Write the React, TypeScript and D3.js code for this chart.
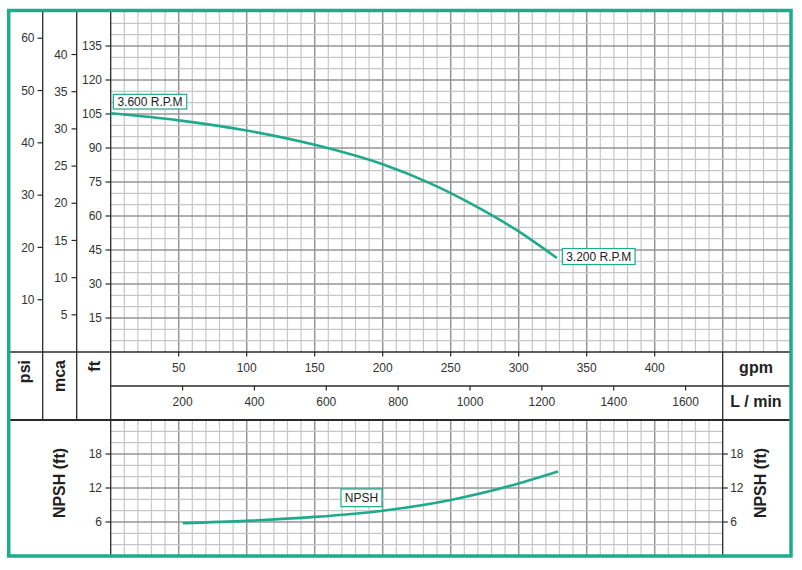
import React from "react";
import * as d3 from "d3";

// ---- data ----
const headGpm = [0, 50, 100, 150, 200, 235, 270, 300, 328];
const headFt = [105.3, 102.2, 97.7, 91.4, 82.8, 74.4, 63.8, 53.2, 41.5];
const npshGpm = [53, 100, 150, 200, 250, 300, 329];
const npshFt = [5.8, 6.2, 6.9, 8.0, 9.9, 12.8, 14.9];

const psiTicks = [10, 20, 30, 40, 50, 60];
const mcaTicks = [5, 10, 15, 20, 25, 30, 35, 40];
const ftTicks = [15, 30, 45, 60, 75, 90, 105, 120, 135];
const gpmTicks = [50, 100, 150, 200, 250, 300, 350, 400];
const lminTicks = [200, 400, 600, 800, 1000, 1200, 1400, 1600];
const npshTicks = [6, 12, 18];

const label3600 = "3.600 R.P.M";
const label3200 = "3.200 R.P.M";
const labelNpsh = "NPSH";

const GREEN = "#1faa8c";
const LIGHT = "#c6c6c6";
const DARK = "#949494";
const AX = "#2a2a2a";
const TXT = "#333";
const FONT = "'Liberation Sans', Arial, sans-serif";

export default function App() {
  const x0 = 110.7;
  const xGpm = d3.scaleLinear().domain([0, 500]).range([x0, x0 + 680]);
  const xL = d3.scaleLinear().domain([0, 500 * 3.785]).range([x0, x0 + 680]);
  const yFt = d3.scaleLinear().domain([0, 150]).range([352, 12]);
  const yPsi = d3.scaleLinear().domain([0, 150 / 2.307]).range([352, 12]);
  const yMca = d3.scaleLinear().domain([0, 150 / 3.281]).range([352, 12]);
  const yN = d3.scaleLinear().domain([0, 24]).range([556, 420]);

  const xRightN = xGpm(450);

  const vTop = d3.range(10, 500, 10);
  const vBot = d3.range(10, 450, 10);
  const hTop = d3.range(5, 150, 5);
  const hBot = d3.range(2, 24, 2);

  const headPts = headGpm.map((g, i) => [g, headFt[i]] as [number, number]);
  const npshPts = npshGpm.map((g, i) => [g, npshFt[i]] as [number, number]);
  const headLine = d3
    .line<[number, number]>()
    .x((d) => xGpm(d[0]))
    .y((d) => yFt(d[1]))
    .curve(d3.curveMonotoneX);
  const npshLine = d3
    .line<[number, number]>()
    .x((d) => xGpm(d[0]))
    .y((d) => yN(d[1]))
    .curve(d3.curveMonotoneX);

  const hs = headPts[0];
  const he = headPts[headPts.length - 1];
  const hsx = xGpm(hs[0]);
  const hsy = yFt(hs[1]);
  const hex = xGpm(he[0]);
  const hey = yFt(he[1]);
  const nMid = npshPts[3];

  const tickText = { fontSize: 12, fill: TXT, fontFamily: FONT } as const;
  const bold = { fontSize: 16, fontWeight: 700, fill: "#222", fontFamily: FONT } as const;

  return (
    <svg
      width={802}
      height={570}
      style={{ position: "absolute", left: 0, top: 0, background: "#fff" }}
    >
      <rect x={0} y={0} width={802} height={570} fill="#fff" />
      {/* grid top */}
      <g>
        {vTop.map((g) => (
          <line
            key={"vt" + g}
            x1={xGpm(g)}
            x2={xGpm(g)}
            y1={12}
            y2={352}
            stroke={g % 50 === 0 ? DARK : LIGHT}
            strokeWidth={g % 50 === 0 ? 1.5 : 1.2}
          />
        ))}
        {hTop.map((f) => (
          <line
            key={"ht" + f}
            x1={x0}
            x2={xGpm(500)}
            y1={yFt(f)}
            y2={yFt(f)}
            stroke={f % 15 === 0 ? DARK : LIGHT}
            strokeWidth={f % 15 === 0 ? 1.5 : 1.2}
          />
        ))}
      </g>
      {/* grid bottom */}
      <g>
        {vBot.map((g) => (
          <line
            key={"vb" + g}
            x1={xGpm(g)}
            x2={xGpm(g)}
            y1={420}
            y2={556}
            stroke={g % 50 === 0 ? DARK : LIGHT}
            strokeWidth={g % 50 === 0 ? 1.5 : 1.2}
          />
        ))}
        {hBot.map((f) => (
          <line
            key={"hb" + f}
            x1={x0}
            x2={xRightN}
            y1={yN(f)}
            y2={yN(f)}
            stroke={f % 6 === 0 ? DARK : LIGHT}
            strokeWidth={f % 6 === 0 ? 1.5 : 1.2}
          />
        ))}
      </g>

      {/* axis lines / table lines */}
      <g stroke={AX} strokeWidth={1.3}>
        <line x1={42.7} x2={42.7} y1={10} y2={420} />
        <line x1={76.7} x2={76.7} y1={10} y2={420} />
        <line x1={x0} x2={x0} y1={10} y2={556} />
        <line x1={8} x2={791} y1={352} y2={352} />
        <line x1={x0} x2={791} y1={386} y2={386} />
        <line x1={xRightN} x2={xRightN} y1={352} y2={556} />
      </g>
      <line x1={8} x2={791} y1={420} y2={420} stroke={AX} strokeWidth={2.2} />

      {/* psi axis */}
      {psiTicks.map((t) => (
        <g key={"psi" + t}>
          <line x1={37.5} x2={42.7} y1={yPsi(t)} y2={yPsi(t)} stroke={AX} strokeWidth={1.2} />
          <text x={34.5} y={yPsi(t) + 4.2} textAnchor="end" style={tickText}>
            {t}
          </text>
        </g>
      ))}
      {/* mca axis */}
      {mcaTicks.map((t) => (
        <g key={"mca" + t}>
          <line x1={71.5} x2={76.7} y1={yMca(t)} y2={yMca(t)} stroke={AX} strokeWidth={1.2} />
          <text x={67.5} y={yMca(t) + 4.2} textAnchor="end" style={tickText}>
            {t}
          </text>
        </g>
      ))}
      {/* ft axis */}
      {ftTicks.map((t) => (
        <g key={"ft" + t}>
          <line x1={105.5} x2={x0} y1={yFt(t)} y2={yFt(t)} stroke={AX} strokeWidth={1.2} />
          <text x={102} y={yFt(t) + 4.2} textAnchor="end" style={tickText}>
            {t}
          </text>
        </g>
      ))}
      {/* gpm axis */}
      {gpmTicks.map((t) => (
        <g key={"gpm" + t}>
          <line x1={xGpm(t)} x2={xGpm(t)} y1={352} y2={356.5} stroke={AX} strokeWidth={1.2} />
          <text x={xGpm(t)} y={371.5} textAnchor="middle" style={tickText}>
            {t}
          </text>
        </g>
      ))}
      {/* L/min axis */}
      {lminTicks.map((t) => (
        <g key={"lm" + t}>
          <line x1={xL(t)} x2={xL(t)} y1={386} y2={390.5} stroke={AX} strokeWidth={1.2} />
          <text x={xL(t)} y={405.5} textAnchor="middle" style={tickText}>
            {t}
          </text>
        </g>
      ))}
      {/* NPSH axes */}
      {npshTicks.map((t) => (
        <g key={"n" + t}>
          <line x1={105.5} x2={x0} y1={yN(t)} y2={yN(t)} stroke={AX} strokeWidth={1.2} />
          <text x={102} y={yN(t) + 4.2} textAnchor="end" style={tickText}>
            {t}
          </text>
          <line x1={xRightN} x2={xRightN + 5.2} y1={yN(t)} y2={yN(t)} stroke={AX} strokeWidth={1.2} />
          <text x={xRightN + 7.5} y={yN(t) + 4.2} textAnchor="start" style={tickText}>
            {t}
          </text>
        </g>
      ))}

      {/* unit labels */}
      <text transform="translate(30,360) rotate(-90)" textAnchor="end" style={bold}>
        psi
      </text>
      <text transform="translate(64.5,360) rotate(-90)" textAnchor="end" style={bold}>
        mca
      </text>
      <text transform="translate(100,361) rotate(-90)" textAnchor="end" style={bold}>
        ft
      </text>
      <text x={756} y={372.5} textAnchor="middle" style={bold}>
        gpm
      </text>
      <text x={756} y={406.5} textAnchor="middle" style={bold}>
        L / min
      </text>
      <text transform="translate(64.5,483) rotate(-90)" textAnchor="middle" style={bold}>
        NPSH (ft)
      </text>
      <text transform="translate(766,483) rotate(-90)" textAnchor="middle" style={bold}>
        NPSH (ft)
      </text>

      {/* curves */}
      <path d={headLine(headPts) || ""} fill="none" stroke={GREEN} strokeWidth={2.6} />
      <path d={npshLine(npshPts) || ""} fill="none" stroke={GREEN} strokeWidth={2.6} />

      {/* labels */}
      <g>
        <rect x={hsx + 2.6} y={hsy - 19} width={73.4} height={14.7} fill="#fff" stroke={GREEN} strokeWidth={1.2} />
        <text x={hsx + 2.6 + 36.7} y={hsy - 7.5} textAnchor="middle" style={{ ...tickText, fill: "#222" }}>
          {label3600}
        </text>
      </g>
      <g>
        <rect x={hex + 5.6} y={hey - 9.4} width={72.7} height={16} fill="#fff" stroke={GREEN} strokeWidth={1.2} />
        <text x={hex + 5.6 + 36.35} y={hey + 3.3} textAnchor="middle" style={{ ...tickText, fill: "#222" }}>
          {label3200}
        </text>
      </g>
      <g>
        <rect x={xGpm(nMid[0]) - 41.7} y={yN(nMid[1]) - 21.7} width={41} height={17.7} fill="#fff" stroke={GREEN} strokeWidth={1.2} />
        <text x={xGpm(nMid[0]) - 21.2} y={yN(nMid[1]) - 8.5} textAnchor="middle" style={{ ...tickText, fill: "#222" }}>
          {labelNpsh}
        </text>
      </g>

      {/* outer border */}
      <rect x={8.7} y={10.5} width={782.3} height={545.5} fill="none" stroke={GREEN} strokeWidth={3.5} />
    </svg>
  );
}
